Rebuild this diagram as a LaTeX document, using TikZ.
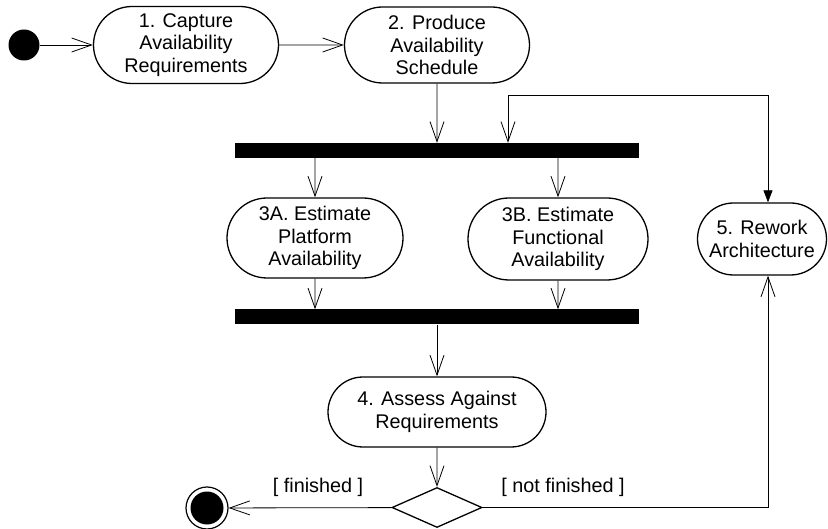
\documentclass[tikz,border=0pt]{standalone}
\usepackage{fontspec}
\setmainfont{Liberation Sans}
\usetikzlibrary{arrows.meta,shapes.geometric,shapes.misc}
\tikzset{
  txt/.style={font=\fontsize{19.8}{22.5}\selectfont},
  act/.style={txt, rounded rectangle, draw, line width=1.3pt, align=center, inner sep=0pt},
  bar/.style={fill=black, draw=none, inner sep=0pt, minimum height=15pt, minimum width=404pt},
  flow/.style={line width=0.8pt, -{Straight Barb[length=20pt,width=14pt]}},
  loopflow/.style={line width=0.8pt, {Triangle[length=12pt,width=9pt]}-{Straight Barb[length=20pt,width=14pt]}},
  decision/.style={diamond, draw, line width=1.3pt, inner sep=0pt, minimum width=90pt, minimum height=40pt},
}
\begin{document}
\begin{tikzpicture}[x=1pt,y=-1pt]
\useasboundingbox (0,0) rectangle (828,529);
\node[circle, fill=black, inner sep=0pt, minimum size=31pt] (s) at (24,45) {};
\node[act, minimum width=185pt, minimum height=77pt] (n1) at (186,45) {1. Capture\\Availability\\Requirements};
\node[act, minimum width=185pt, minimum height=76pt] (n2) at (437,45) {2. Produce\\Availability\\Schedule};
\node[bar] (b1) at (437,150.5) {};
\node[act, minimum width=176pt, minimum height=80pt] (n3a) at (315,238) {3A. Estimate\\Platform\\Availability};
\node[act, minimum width=180pt, minimum height=82pt] (n3b) at (558,239) {3B. Estimate\\Functional\\Availability};
\node[act, minimum width=129pt, minimum height=72pt] (n5) at (762,239) {5. Rework\\Architecture};
\node[bar] (b2) at (437,317) {};
\node[act, minimum width=218pt, minimum height=70pt] (n4) at (437,412) {4. Assess Against\\Requirements};
\node[decision] (d) at (437,507.5) {};
\node[circle, draw, line width=1.2pt, inner sep=0pt, minimum size=42pt] (e) at (207,508) {};
\node[circle, fill=black, inner sep=0pt, minimum size=33pt] (ei) at (e.center) {};
\node[txt] (lf) at (318,487) {[ finished ]};
\node[txt] (lnf) at (563,487) {[ not finished ]};
\coordinate (c1) at (768,95);
\coordinate (c2) at (508,95);
\draw[flow] (s) -- (n1);
\draw[flow] (n1) -- (n2);
\draw[flow] (n2) -- (n2 |- b1.north);
\draw[flow] (n3a |- b1.south) -- (n3a);
\draw[flow] (n3b |- b1.south) -- (n3b);
\draw[flow] (n3a) -- (n3a |- b2.north);
\draw[flow] (n3b) -- (n3b |- b2.north);
\draw[flow] (b2) -- (n4);
\draw[flow] (n4) -- (d);
\draw[flow] (d) -- (e);
\draw[loopflow] (c1 |- n5.north) -- (c1) -- (c2) -- (c2 |- b1.north);
\draw[flow] (d.east) -| (c1 |- n5.south);
\end{tikzpicture}
\end{document}
